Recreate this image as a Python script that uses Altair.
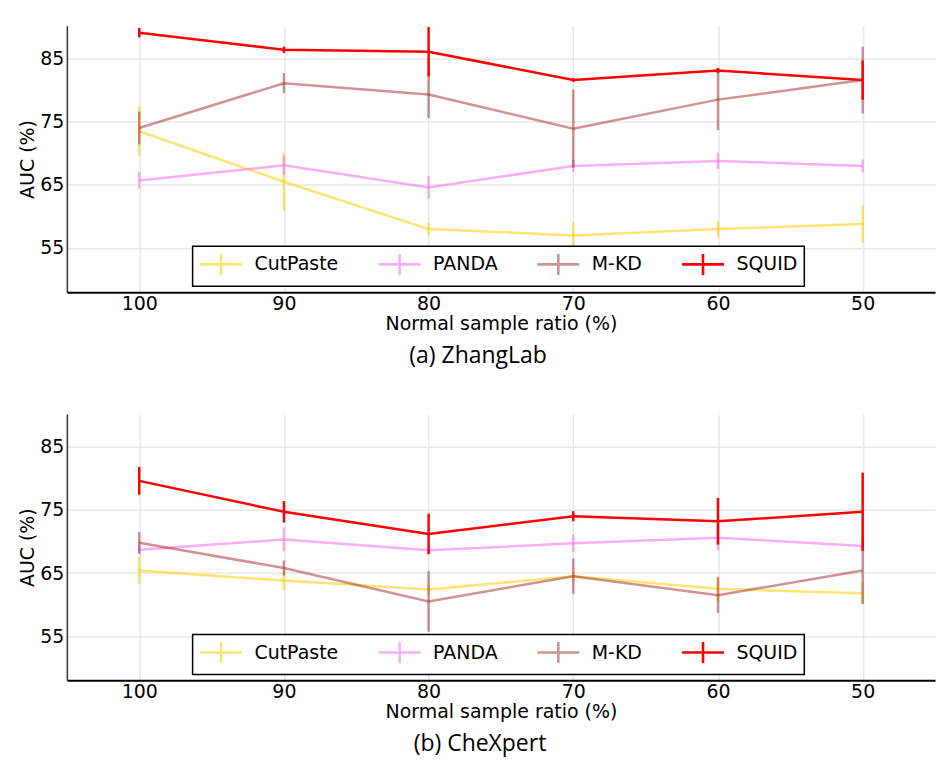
import altair as alt
import pandas as pd

ratios = [100, 90, 80, 70, 60, 50]
methods = ["CutPaste", "PANDA", "M-KD", "SQUID"]
colors = ["rgba(255,205,0,0.55)", "rgba(238,110,238,0.55)", "rgba(160,40,40,0.5)", "rgba(255,0,0,1)"]
line_widths = [2.5, 2.5, 2.5, 3.2]

# (a) ZhangLab
zl_cutpaste = [73.5, 65.5, 58.0, 57.0, 58.0, 58.8]
zl_cutpaste_err = [3.9, 4.6, 1.0, 2.0, 1.3, 3.0]
zl_panda = [65.7, 68.1, 64.6, 68.0, 68.8, 68.0]
zl_panda_err = [1.3, 1.5, 1.8, 1.0, 1.3, 1.0]
zl_mkd = [74.0, 81.1, 79.3, 73.9, 78.5, 81.6]
zl_mkd_err = [2.6, 1.6, 3.7, 6.2, 4.8, 5.3]
zl_squid = [89.1, 86.4, 86.1, 81.6, 83.1, 81.6]
zl_squid_err = [0.75, 0.5, 3.9, 0.3, 0.4, 3.1]

# (b) CheXpert
cx_cutpaste = [65.4, 63.8, 62.4, 64.5, 62.5, 61.8]
cx_cutpaste_err = [2.2, 1.5, 0.8, 0.8, 2.0, 1.7]
cx_panda = [68.7, 70.3, 68.6, 69.7, 70.6, 69.3]
cx_panda_err = [0.8, 1.9, 0.6, 1.4, 2.0, 0.6]
cx_mkd = [69.8, 65.8, 60.5, 64.5, 61.5, 65.4]
cx_mkd_err = [1.7, 1.2, 4.8, 2.8, 2.8, 5.3]
cx_squid = [79.6, 74.7, 71.2, 74.0, 73.2, 74.7]
cx_squid_err = [2.2, 1.7, 3.2, 0.8, 3.7, 6.2]


def build(series):
    rows = []
    for m, (vals, errs) in zip(methods, series):
        for r, v, e in zip(ratios, vals, errs):
            rows.append({"ratio": r, "method": m, "auc": v, "lo": v - e, "hi": v + e})
    return pd.DataFrame(rows)


df_a = build([(zl_cutpaste, zl_cutpaste_err), (zl_panda, zl_panda_err),
              (zl_mkd, zl_mkd_err), (zl_squid, zl_squid_err)])
df_b = build([(cx_cutpaste, cx_cutpaste_err), (cx_panda, cx_panda_err),
              (cx_mkd, cx_mkd_err), (cx_squid, cx_squid_err)])

W, H = 870, 267


def panel(df, title_text, dx):
    x = alt.X("ratio:Q",
              scale=alt.Scale(domain=[105, 45], nice=False, zero=False),
              axis=alt.Axis(values=ratios, title="Normal sample ratio (%)", format="d"))
    y = alt.Y("auc:Q",
              scale=alt.Scale(domain=[48, 90.2], nice=False, zero=False),
              axis=alt.Axis(values=[55, 65, 75, 85], title="AUC (%)"))
    color = alt.Color("method:N",
                      scale=alt.Scale(domain=methods, range=colors),
                      legend=alt.Legend(orient="none", legendX=126, legendY=221,
                                        direction="horizontal", title=None,
                                        symbolType="M-1,0H3M1,-1V1",
                                        symbolSize=441, symbolStrokeWidth=2.6,
                                        labelOffset=32, columnPadding=34,
                                        padding=6, strokeColor="black",
                                        fillColor="white"))
    sw = alt.StrokeWidth("method:N",
                         scale=alt.Scale(domain=methods, range=line_widths),
                         legend=None)
    layers = []
    for m in methods:
        base = alt.Chart(df).transform_filter(alt.datum.method == m)
        bars = base.mark_rule().encode(x=x, y=alt.Y("lo:Q"), y2="hi:Q", color=color, strokeWidth=sw)
        line = base.mark_line().encode(x=x, y=y, color=color, strokeWidth=sw)
        layers += [bars, line]
    return alt.layer(*layers).properties(
        width=W, height=H,
        title=alt.Title(title_text, orient="bottom", anchor="middle", dx=dx, offset=12,
                        font="Open Sans", fontSize=23, fontWeight="normal", color="black"))


chart = alt.vconcat(panel(df_a, "(a) ZhangLab", -23), panel(df_b, "(b) CheXpert", -21),
                    spacing=46).resolve_legend(color="independent").properties(
    padding={"left": 10, "top": 17, "right": 5, "bottom": 5}, background="white"
).configure_view(strokeWidth=0).configure_axis(
    labelFont="DejaVu Sans", labelFontSize=19, labelColor="black",
    titleFont="DejaVu Sans", titleFontSize=19, titleFontWeight="normal", titleColor="black",
    ticks=False, tickSize=0, gridColor="#e8e8e8", gridWidth=1.5,
    domainColor="black"
).configure_axisX(
    domainWidth=2, labelPadding=2, titlePadding=1
).configure_axisY(
    domainWidth=1.5, domainColor="#333333", labelPadding=3, titlePadding=2
).configure_legend(
    labelFont="DejaVu Sans", labelFontSize=19, labelColor="black", strokeWidth=1.5
)

chart.save("out.html", embed_options={"renderer": "svg", "actions": False})
